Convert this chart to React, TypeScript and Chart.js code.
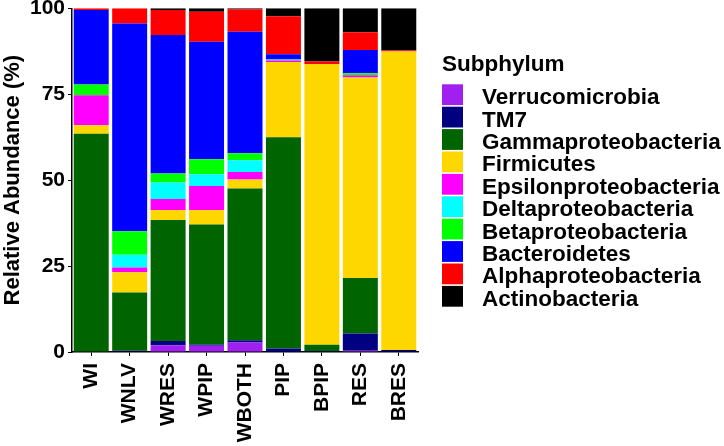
import { useEffect, useRef } from "react";
import { Chart, registerables } from "chart.js";
Chart.register(...registerables);

const samples = ["WI", "WNLV", "WRES", "WPIP", "WBOTH", "PIP", "BPIP", "RES", "BRES"];
const yTicks = [0, 25, 50, 75, 100];

// stacked bottom to top, same order as the legend
const verrucomicrobia = [0, 0, 2.0, 1.8, 2.8, 0, 0, 0.4, 0];
const tm7 = [0, 0.4, 1.2, 0.4, 0.6, 1.0, 0.3, 5.0, 0.6];
const gammaproteobacteria = [63.5, 16.9, 35.2, 34.9, 44.2, 61.5, 1.8, 16.1, 0];
const firmicutes = [2.5, 5.9, 2.9, 4.2, 2.6, 21.9, 81.7, 58.4, 86.8];
const epsilonproteobacteria = [8.7, 1.4, 3.2, 7.0, 2.2, 0.4, 0, 0.6, 0];
const deltaproteobacteria = [0, 3.7, 4.8, 3.4, 3.4, 0.3, 0, 0, 0];
const betaproteobacteria = [3.1, 6.8, 2.6, 4.4, 2.0, 0, 0, 0.6, 0];
const bacteroidetes = [21.7, 60.5, 40.3, 34.2, 35.4, 1.5, 0, 6.8, 0];
const alphaproteobacteria = [0.5, 4.4, 7.3, 8.7, 6.5, 11.1, 0.7, 5.1, 0.3];
const actinobacteria = [0, 0, 0.5, 1.0, 0.3, 2.3, 15.5, 7.0, 12.3];

const series = [
  { name: "Verrucomicrobia", color: "#A020F0", values: verrucomicrobia },
  { name: "TM7", color: "#000080", values: tm7 },
  { name: "Gammaproteobacteria", color: "#006400", values: gammaproteobacteria },
  { name: "Firmicutes", color: "#FFD700", values: firmicutes },
  { name: "Epsilonproteobacteria", color: "#FF00FF", values: epsilonproteobacteria },
  { name: "Deltaproteobacteria", color: "#00FFFF", values: deltaproteobacteria },
  { name: "Betaproteobacteria", color: "#00FF00", values: betaproteobacteria },
  { name: "Bacteroidetes", color: "#0000FF", values: bacteroidetes },
  { name: "Alphaproteobacteria", color: "#FF0000", values: alphaproteobacteria },
  { name: "Actinobacteria", color: "#000000", values: actinobacteria },
];

const FONT = "'Liberation Sans', Arial, sans-serif";

// legend drawn by hand so it can run off the right edge like the original
const sideLegend = {
  id: "sideLegend",
  afterDraw(chart: any) {
    const ctx = chart.ctx;
    ctx.save();
    ctx.fillStyle = "#000";
    ctx.font = `bold 22.5px ${FONT}`;
    ctx.textBaseline = "alphabetic";
    ctx.textAlign = "left";
    ctx.fillText("Subphylum", 442, 70.5);
    chart.data.datasets.forEach((ds: any, i: number) => {
      const top = 84.3 + i * 22.4;
      ctx.fillStyle = ds.backgroundColor;
      ctx.fillRect(442, top, 21, 20.8);
      ctx.fillStyle = "#000";
      ctx.fillText(ds.label, 482, top + 19.8);
    });
    ctx.restore();
  },
};

export default function App() {
  const canvasRef = useRef<HTMLCanvasElement | null>(null);

  useEffect(() => {
    if (!canvasRef.current) return;

    const chart = new Chart(canvasRef.current, {
      type: "bar",
      data: {
        labels: samples,
        datasets: series.map((s) => ({
          label: s.name,
          data: s.values,
          backgroundColor: s.color,
          borderWidth: 0,
          barPercentage: 0.91,
          categoryPercentage: 1,
        })),
      },
      options: {
        animation: false,
        responsive: true,
        maintainAspectRatio: false,
        layout: { padding: { left: 0, right: 306, top: 0, bottom: 0 } },
        plugins: { legend: { display: false }, tooltip: { enabled: false } },
        scales: {
          x: {
            stacked: true,
            afterFit: (s: any) => { s.height = 94; },
            grid: { offset: false, drawOnChartArea: false, drawTicks: true, tickLength: 4, color: "#000" },
            border: { display: true, color: "#000", width: 1.5 },
            ticks: {
              minRotation: 90, maxRotation: 90, autoSkip: false, padding: 7,
              color: "#000", font: { family: FONT, size: 21, weight: "bold" },
            },
          },
          y: {
            stacked: true,
            min: 0,
            max: 100,
            afterBuildTicks: (s: any) => { s.ticks = yTicks.map((v) => ({ value: v })); },
            afterFit: (s: any) => { s.width = 72; s.paddingTop = 8.3; },
            grid: { drawOnChartArea: false, drawTicks: true, tickLength: 4, color: "#000" },
            border: { display: true, color: "#000", width: 1.5 },
            ticks: { padding: 3, color: "#000", font: { family: FONT, size: 21, weight: "bold" } },
            title: {
              display: true,
              text: "Relative Abundance (%)",
              color: "#000",
              padding: 0,
              font: { family: FONT, size: 22, weight: "bold" },
            },
          },
        },
      },
      plugins: [sideLegend],
    });

    return () => chart.destroy();
  }, []);

  return (
    <div style={{ position: "fixed", left: 0, top: 0, width: 724, height: 446, background: "#fff" }}>
      <canvas ref={canvasRef} />
    </div>
  );
}
